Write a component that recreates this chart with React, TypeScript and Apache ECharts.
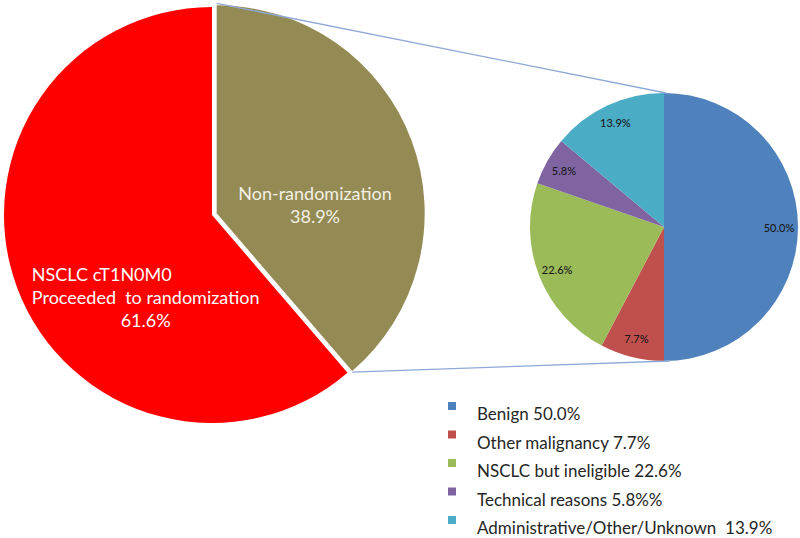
import React, { useEffect, useRef } from 'react';
import * as echarts from 'echarts';

const bigCategories = ['Non-randomization', 'NSCLC cT1N0M0|Proceeded  to randomization'];
const bigValues = [38.9, 61.6];
const bigColors = ['#948A54', '#FF0000'];

const smallCategories = ['Benign', 'Other malignancy', 'NSCLC but ineligible', 'Technical reasons', 'Administrative/Other/Unknown'];
const smallValues = [50.0, 7.7, 22.6, 5.8, 13.9];
const smallColors = ['#4F81BD', '#C0504D', '#9BBB59', '#8064A2', '#4BACC6'];
const legendLabels = ['Benign 50.0%', 'Other malignancy 7.7%', 'NSCLC but ineligible 22.6%', 'Technical reasons 5.8%%', 'Administrative/Other/Unknown  13.9%'];

const FONT = 'Lato, "Open Sans", sans-serif';
const BIG_C = [212, 215];
const BIG_R = 208;
const OFFSET = 5;
const SMALL_C = [664, 227];
const SMALL_R = 134;

export default function App() {
  const ref = useRef<HTMLDivElement>(null);
  useEffect(() => {
    if (!ref.current) return;
    const chart = echarts.init(ref.current, undefined, { renderer: 'svg' });
    const total = bigValues.reduce((a, b) => a + b, 0);
    const endAng = (bigValues[0] / total) * Math.PI * 2;
    const mid = endAng / 2;
    const ox = BIG_C[0] + OFFSET * Math.sin(mid);
    const oy = BIG_C[1] - OFFSET * Math.cos(mid);
    const topPt = [ox, oy - BIG_R];
    const botPt = [ox + BIG_R * Math.sin(endAng), oy - BIG_R * Math.cos(endAng)];
    const lineStyle = { stroke: '#8EA9D6', lineWidth: 1.3 };

    chart.setOption({
      animation: false,
      legend: {
        orient: 'vertical',
        left: 448,
        top: 390,
        height: 220,
        padding: 0,
        itemGap: -3.5,
        icon: 'rect',
        itemWidth: 8,
        itemHeight: 8,
        selectedMode: false,
        data: smallCategories.map((n, i) => ({ name: n, itemStyle: { color: smallColors[i] } })),
        formatter: (name: string) => '\n' + legendLabels[smallCategories.indexOf(name)],
        textStyle: {
          fontFamily: FONT,
          fontSize: 17,
          lineHeight: 15,
          color: '#262626',
          padding: [0, 0, 0, 16],
        },
      },
      graphic: [
        { type: 'line', z: 10, shape: { x1: topPt[0], y1: topPt[1] - 2, x2: SMALL_C[0] + 2, y2: SMALL_C[1] - SMALL_R }, style: lineStyle },
        { type: 'line', z: 10, shape: { x1: botPt[0], y1: botPt[1] + 1, x2: SMALL_C[0] + 6, y2: SMALL_C[1] + SMALL_R }, style: lineStyle },
      ],
      series: [
        {
          type: 'pie',
          center: BIG_C,
          radius: BIG_R,
          startAngle: 90,
          clockwise: true,
          selectedMode: 'single',
          selectedOffset: OFFSET,
          silent: true,
          emphasis: { disabled: true },
          label: {
            show: true,
            position: 'inside',
            fontFamily: FONT,
            fontSize: 18,
            lineHeight: 23,
          },
          labelLine: { show: false },
          labelLayout: (p: any) => (p.dataIndex === 0 ? { dx: -2, dy: 28 } : { dx: 34, dy: 45 }),
          data: bigCategories.map((n, i) => ({
            name: n,
            value: bigValues[i],
            selected: i === 0,
            itemStyle: { color: bigColors[i] },
            label:
              i === 0
                ? { color: '#F3F0E4', formatter: (p: any) => `${p.name}\n${p.value.toFixed(1)}%` }
                : {
                    color: '#FFFFFF',
                    formatter: (p: any) => {
                      const parts = String(p.name).split('|');
                      return parts.map((s) => `{a|${s}}`).join('\n') + `\n{c|${p.value.toFixed(1)}%}`;
                    },
                    rich: {
                      a: { align: 'left', fontFamily: FONT, fontSize: 18, lineHeight: 23, color: '#FFFFFF' },
                      c: { align: 'center', fontFamily: FONT, fontSize: 18, lineHeight: 23, color: '#FFFFFF' },
                    },
                  },
          })),
        },
        {
          type: 'pie',
          center: SMALL_C,
          radius: SMALL_R,
          startAngle: 90,
          clockwise: true,
          silent: true,
          emphasis: { disabled: true },
          label: { show: false },
          labelLine: { show: false },
          data: smallCategories.map((n, i) => ({ name: n, value: smallValues[i], itemStyle: { color: smallColors[i] } })),
        },
        {
          type: 'pie',
          center: SMALL_C,
          radius: [90, SMALL_R],
          startAngle: 90,
          clockwise: true,
          silent: true,
          emphasis: { disabled: true },
          itemStyle: { color: 'rgba(0,0,0,0)' },
          label: {
            show: true,
            position: 'inside',
            fontFamily: FONT,
            fontSize: 11,
            fontWeight: 500,
            color: '#1A1A1A',
            formatter: (p: any) => `${p.value.toFixed(1)}%`,
          },
          labelLine: { show: false },
          data: smallCategories.map((n, i) => ({ name: n, value: smallValues[i] })),
        },
      ],
    });
    return () => chart.dispose();
  }, []);
  return <div ref={ref} style={{ position: 'absolute', left: 0, top: 0, width: 800, height: 538, background: '#fff' }} />;
}
